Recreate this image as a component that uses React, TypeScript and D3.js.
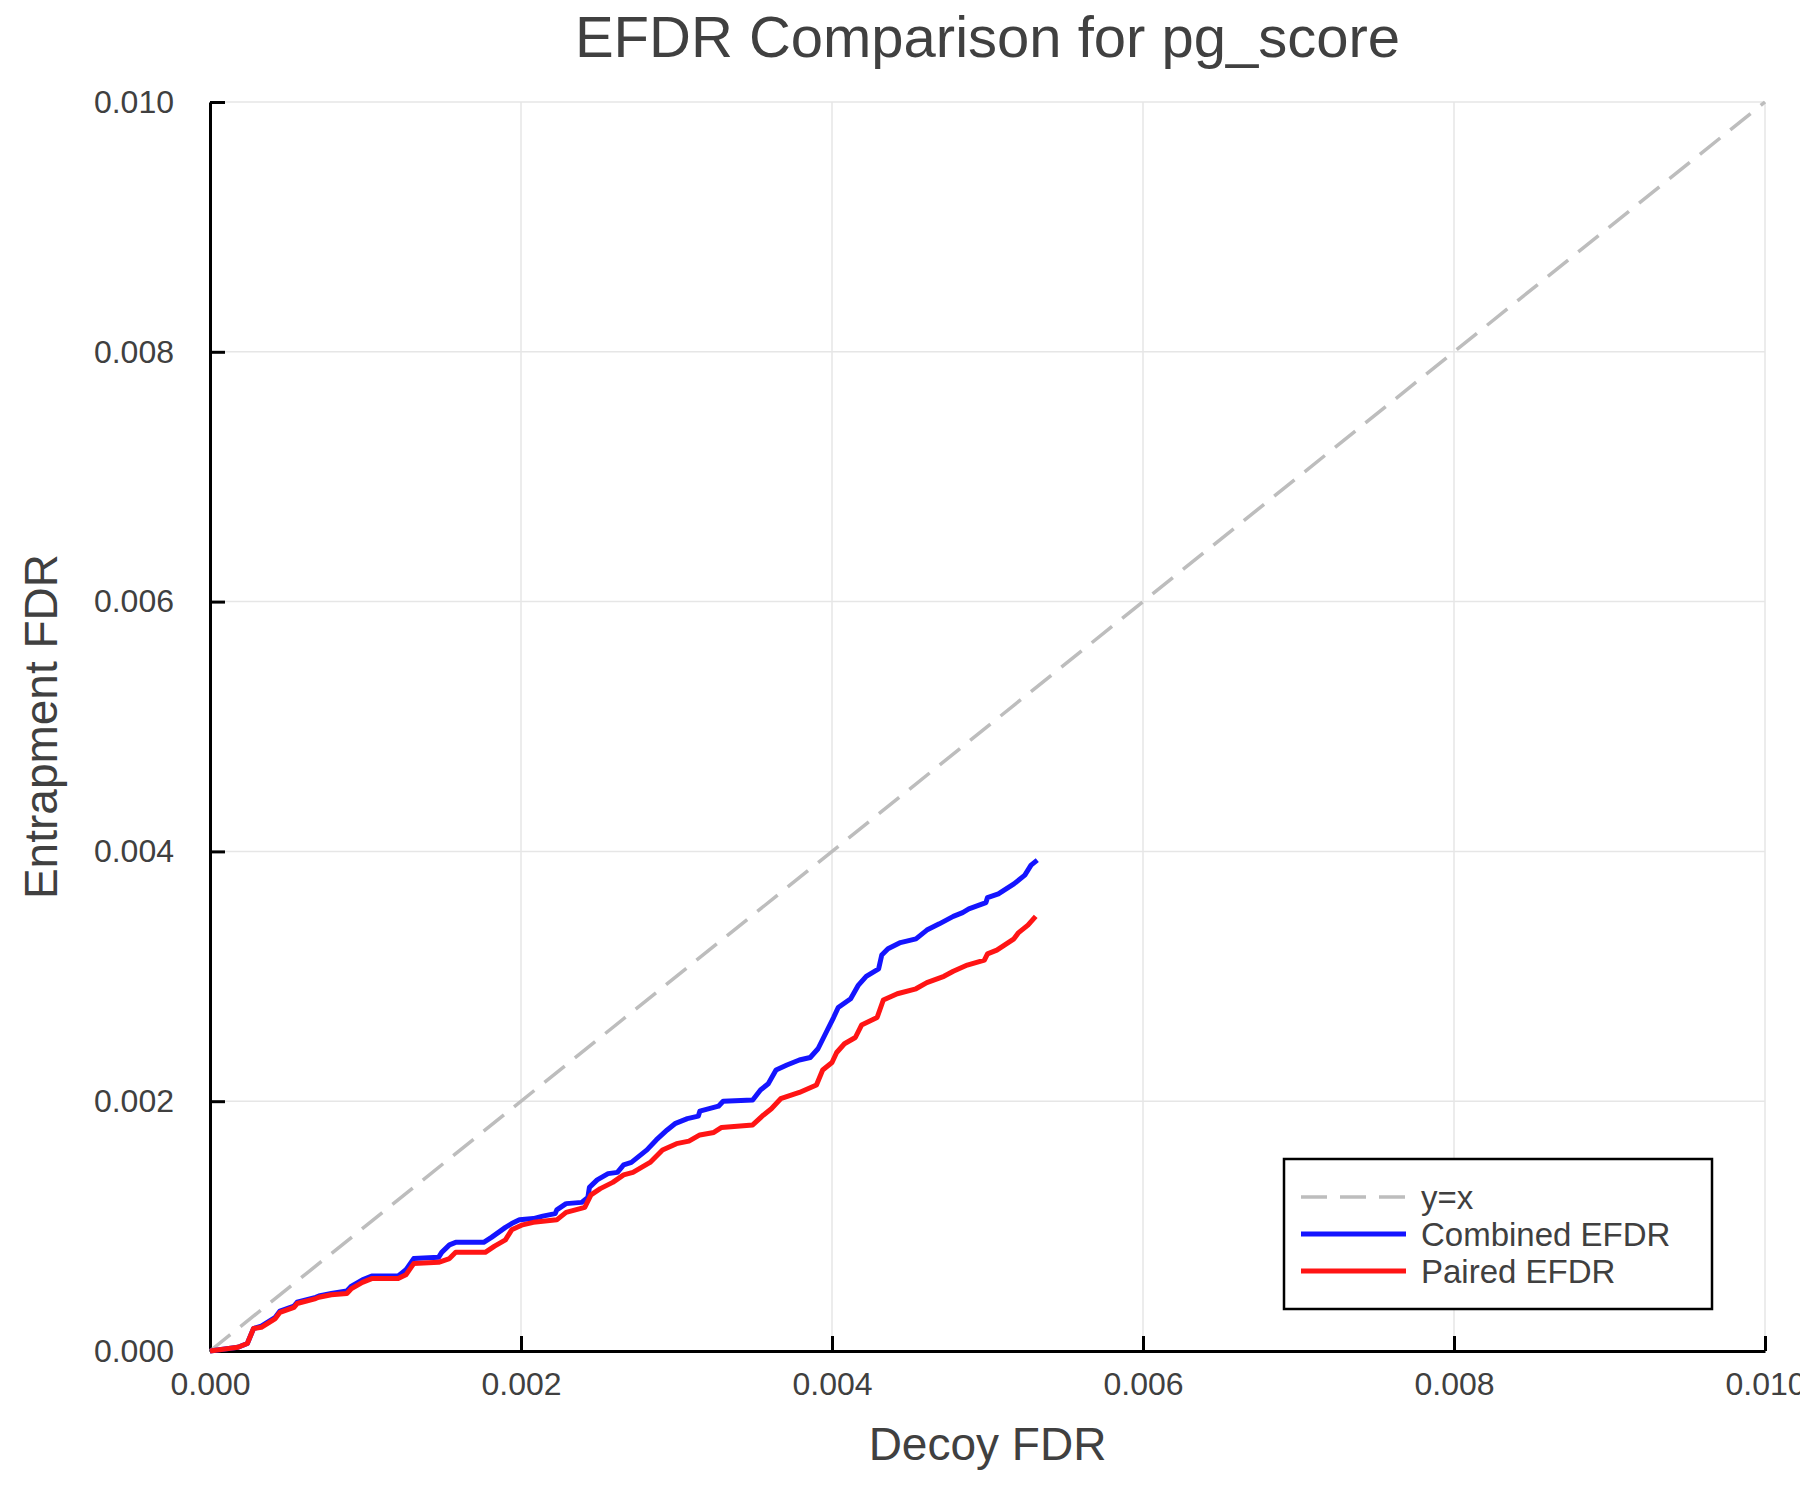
import * as React from 'react';
import { useRef, useEffect } from 'react';
import * as d3 from 'd3';

// Decoy FDR (x) / entrapment FDR (y) points
const combinedX = [0, 0.00018, 0.00024, 0.00028, 0.00033, 0.00042, 0.00045, 0.00054, 0.00056, 0.00068, 0.0007, 0.00078, 0.00088, 0.00091, 0.00098, 0.00104, 0.00121, 0.00126, 0.00131, 0.00147, 0.00149, 0.00154, 0.00158, 0.00176, 0.00181, 0.0019, 0.00194, 0.00199, 0.00208, 0.00214, 0.00222, 0.00223, 0.00229, 0.00239, 0.00243, 0.00244, 0.00249, 0.00256, 0.00262, 0.00266, 0.00271, 0.00281, 0.00287, 0.00294, 0.00299, 0.00307, 0.00314, 0.00315, 0.00327, 0.0033, 0.00349, 0.00354, 0.00359, 0.00364, 0.00371, 0.00379, 0.00386, 0.00391, 0.00397, 0.00401, 0.00404, 0.00412, 0.00417, 0.00422, 0.0043, 0.00432, 0.00436, 0.00444, 0.00454, 0.00461, 0.00469, 0.00478, 0.00484, 0.00488, 0.00499, 0.005, 0.00507, 0.00517, 0.00524, 0.00528, 0.00532];
const combinedY = [0, 0.00003, 0.00006, 0.00018, 0.0002, 0.00027, 0.00032, 0.00036, 0.00039, 0.00043, 0.00044, 0.00046, 0.00048, 0.00052, 0.00057, 0.0006, 0.0006, 0.00065, 0.00074, 0.00075, 0.00079, 0.00085, 0.00087, 0.00087, 0.00091, 0.00099, 0.00102, 0.00105, 0.00106, 0.00108, 0.0011, 0.00113, 0.00118, 0.00119, 0.00123, 0.00131, 0.00137, 0.00142, 0.00143, 0.00149, 0.00151, 0.00161, 0.00169, 0.00177, 0.00182, 0.00186, 0.00188, 0.00192, 0.00196, 0.002, 0.00201, 0.00209, 0.00214, 0.00225, 0.00229, 0.00233, 0.00235, 0.00242, 0.00257, 0.00267, 0.00275, 0.00282, 0.00293, 0.003, 0.00306, 0.00317, 0.00322, 0.00327, 0.0033, 0.00337, 0.00342, 0.00348, 0.00351, 0.00354, 0.00359, 0.00363, 0.00366, 0.00374, 0.00381, 0.00389, 0.00393];

const pairedX = [0, 0.00018, 0.00024, 0.00028, 0.00033, 0.00042, 0.00045, 0.00054, 0.00056, 0.00068, 0.0007, 0.00078, 0.00088, 0.00091, 0.00098, 0.00104, 0.00121, 0.00126, 0.00131, 0.00147, 0.00154, 0.00158, 0.00177, 0.00183, 0.0019, 0.00194, 0.00201, 0.00208, 0.00223, 0.00229, 0.00241, 0.00245, 0.00251, 0.00259, 0.00266, 0.00272, 0.00283, 0.00291, 0.003, 0.00308, 0.00315, 0.00324, 0.00329, 0.00349, 0.00356, 0.00361, 0.00367, 0.00379, 0.0039, 0.00394, 0.004, 0.00403, 0.00408, 0.00415, 0.00419, 0.00429, 0.00433, 0.00442, 0.00454, 0.00461, 0.00472, 0.00478, 0.00487, 0.00498, 0.005, 0.00506, 0.00517, 0.0052, 0.00526, 0.00531];
const pairedY = [0, 0.00003, 0.00006, 0.00018, 0.00019, 0.00026, 0.00031, 0.00035, 0.00038, 0.00042, 0.00043, 0.00045, 0.00046, 0.0005, 0.00055, 0.00058, 0.00058, 0.00061, 0.0007, 0.00071, 0.00074, 0.00079, 0.00079, 0.00084, 0.00089, 0.00097, 0.00101, 0.00103, 0.00105, 0.00111, 0.00115, 0.00125, 0.0013, 0.00135, 0.00141, 0.00143, 0.00151, 0.00161, 0.00166, 0.00168, 0.00173, 0.00175, 0.00179, 0.00181, 0.00189, 0.00194, 0.00202, 0.00207, 0.00213, 0.00225, 0.00231, 0.00239, 0.00246, 0.00251, 0.00261, 0.00267, 0.00281, 0.00286, 0.0029, 0.00295, 0.003, 0.00304, 0.00309, 0.00313, 0.00318, 0.00321, 0.0033, 0.00335, 0.00341, 0.00348];

const axisTicks = [0, 0.002, 0.004, 0.006, 0.008, 0.01];
const diagonal = [0, 0.01];

const legendItems = [
  { label: 'y=x', color: '#bdbdbd', dash: '26 13', width: 3.5 },
  { label: 'Combined EFDR', color: '#1414ff', dash: null, width: 5 },
  { label: 'Paired EFDR', color: '#ff1414', dash: null, width: 5 },
];

type Pt = { x: number; y: number };

export default function App() {
  const svgRef = useRef<SVGSVGElement>(null);
  const width = 1800;
  const height = 1500;
  const margin = { top: 102, right: 35, bottom: 149, left: 210 };
  const font = '"Liberation Sans", Arial, Helvetica, sans-serif';
  const textColor = '#404040';

  useEffect(() => {
    document.body.style.margin = '0';
    if (!svgRef.current) return;
    const svg = d3.select(svgRef.current);
    svg.selectAll('*').remove();

    const xScale = d3.scaleLinear().domain([0, 0.01]).range([margin.left, width - margin.right]);
    const yScale = d3.scaleLinear().domain([0, 0.01]).range([height - margin.bottom, margin.top]);
    const fmt = d3.format('.3f');

    svg.append('rect').attr('width', width).attr('height', height).attr('fill', '#fff');

    /* grid */
    const grid = svg.append('g').attr('stroke', '#e6e6e6').attr('stroke-width', 1.5);
    axisTicks.forEach((t) => {
      grid.append('line')
        .attr('x1', xScale(t)).attr('x2', xScale(t))
        .attr('y1', yScale(0)).attr('y2', yScale(0.01));
      grid.append('line')
        .attr('x1', xScale(0)).attr('x2', xScale(0.01))
        .attr('y1', yScale(t)).attr('y2', yScale(t));
    });

    /* axes */
    const xAxis = svg.append('g')
      .attr('transform', `translate(0,${yScale(0)})`)
      .call(d3.axisBottom(xScale).tickValues(axisTicks).tickFormat((d) => fmt(+d)).tickSizeInner(-15).tickSizeOuter(0).tickPadding(21));
    const yAxis = svg.append('g')
      .attr('transform', `translate(${xScale(0)},0)`)
      .call(d3.axisLeft(yScale).tickValues(axisTicks).tickFormat((d) => fmt(+d)).tickSizeInner(-15).tickSizeOuter(0).tickPadding(36));
    [xAxis, yAxis].forEach((ax) => {
      ax.select('.domain').attr('stroke', '#000').attr('stroke-width', 3);
      ax.selectAll('.tick line').attr('stroke', '#000').attr('stroke-width', 3);
      ax.selectAll('.tick text')
        .attr('fill', textColor)
        .style('font-family', font)
        .style('font-size', '32px');
    });

    /* lines */
    const line = d3.line<Pt>().x((d) => xScale(d.x)).y((d) => yScale(d.y));
    const diagData = diagonal.map((v) => ({ x: v, y: v }));
    const combined = combinedX.map((x, i) => ({ x, y: combinedY[i] }));
    const paired = pairedX.map((x, i) => ({ x, y: pairedY[i] }));

    svg.append('path').datum(diagData)
      .attr('fill', 'none').attr('stroke', legendItems[0].color)
      .attr('stroke-width', legendItems[0].width).attr('stroke-dasharray', legendItems[0].dash)
      .attr('d', line);
    [combined, paired].forEach((data, i) => {
      svg.append('path').datum(data)
        .attr('fill', 'none')
        .attr('stroke', legendItems[i + 1].color)
        .attr('stroke-width', legendItems[i + 1].width)
        .attr('stroke-linejoin', 'round')
        .attr('d', line);
    });

    /* legend */
    const lg = svg.append('g').attr('transform', 'translate(1284,1159)');
    lg.append('rect').attr('width', 428).attr('height', 150)
      .attr('fill', '#fff').attr('stroke', '#000').attr('stroke-width', 2.5);
    legendItems.forEach((item, i) => {
      const yy = 38 + i * 37;
      lg.append('line')
        .attr('x1', 17).attr('x2', 122).attr('y1', yy).attr('y2', yy)
        .attr('stroke', item.color).attr('stroke-width', item.width)
        .attr('stroke-dasharray', item.dash);
      lg.append('text')
        .attr('x', 137).attr('y', yy).attr('dy', '0.36em')
        .attr('fill', textColor)
        .style('font-family', font).style('font-size', '33px')
        .text(item.label);
    });

    /* titles */
    const cx = (xScale(0) + xScale(0.01)) / 2;
    svg.append('text')
      .attr('x', cx).attr('y', 57).attr('text-anchor', 'middle')
      .attr('fill', textColor).style('font-family', font).style('font-size', '58px')
      .text('EFDR Comparison for pg_score');
    svg.append('text')
      .attr('x', cx).attr('y', 1460).attr('text-anchor', 'middle')
      .attr('fill', textColor).style('font-family', font).style('font-size', '46px')
      .text('Decoy FDR');
    svg.append('text')
      .attr('transform', `translate(57,${(yScale(0) + yScale(0.01)) / 2}) rotate(-90)`)
      .attr('text-anchor', 'middle')
      .attr('fill', textColor).style('font-family', font).style('font-size', '46px')
      .text('Entrapment FDR');
  }, []);

  return <svg ref={svgRef} width={width} height={height} style={{ display: 'block' }} />;
}
